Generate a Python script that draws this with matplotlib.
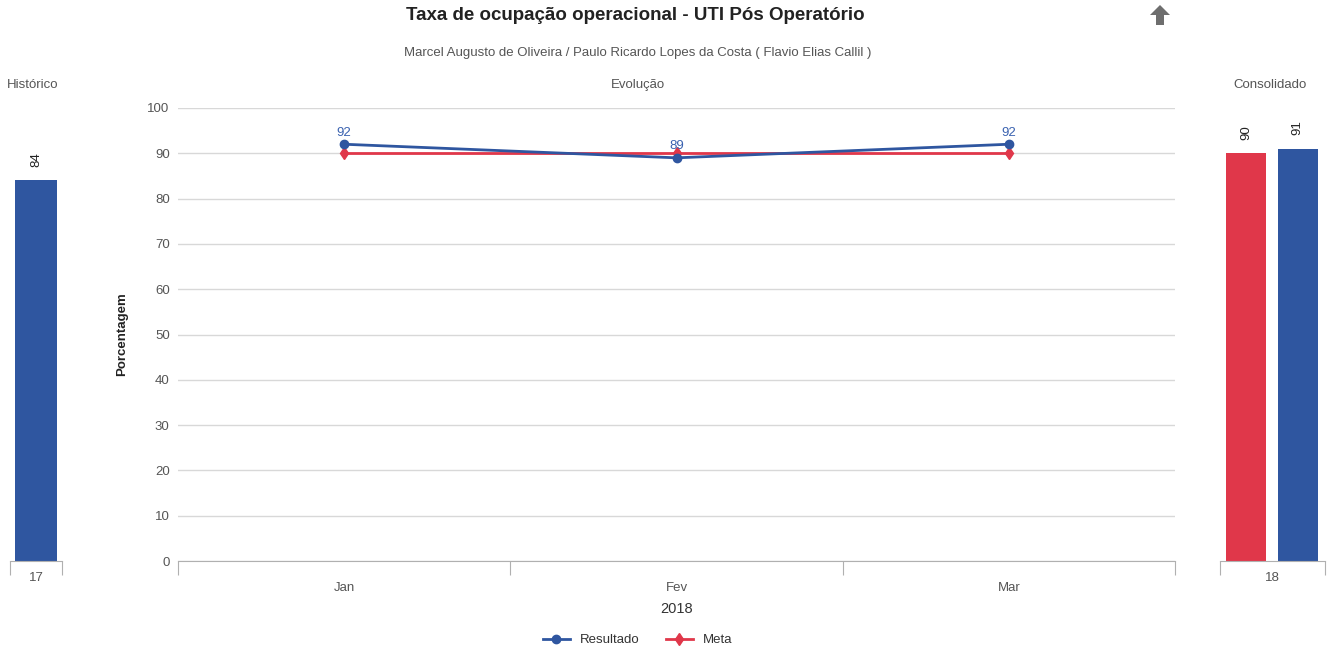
# Taxa de ocupação operacional - UTI Pós Operatório (recriação)

import matplotlib
matplotlib.use("Agg")
import matplotlib.pyplot as plt
from matplotlib.patches import Polygon

plt.rcParams['font.family'] = ['Liberation Sans', 'DejaVu Sans']

# Dados
meses = ['Jan', 'Fev', 'Mar']
resultado = [92, 89, 92]
meta = [90, 90, 90]
historico_rotulos = ['17']
historico_valores = [84]
consolidado_rotulos = ['18']
consolidado_meta = [90]
consolidado_resultado = [91]

azul = '#2f56a0'
vermelho = '#e0374a'
cinza_texto = '#555555'
cinza_grade = '#d8d8d8'

W, H = 1329, 654
fig = plt.figure(figsize=(W / 100, H / 100), dpi=100)
fig.patch.set_facecolor('white')


def px(x0, y0, x1, y1):
    # converte caixa em pixels (y a partir do topo) para coordenadas da figura
    return [x0 / W, 1 - y1 / H, (x1 - x0) / W, (y1 - y0) / H]


def estilo_eixo_x(ax, pad):
    for lado in ['top', 'right', 'left']:
        ax.spines[lado].set_visible(False)
    ax.spines['bottom'].set_color('#b0b0b0')
    ax.tick_params(axis='x', which='major', length=10, color='#b0b0b0', labelbottom=False)
    ax.tick_params(axis='x', which='minor', length=0, labelsize=9.5, labelcolor=cinza_texto, pad=pad)


# Gráfico principal (Evolução)
ax = fig.add_axes(px(178, 108, 1175, 561))
x = list(range(len(meses)))
ax.plot(x, meta, color=vermelho, marker='d', markersize=6, linewidth=2, label='Meta', zorder=3)
ax.plot(x, resultado, color=azul, marker='o', markersize=6, linewidth=2, label='Resultado', zorder=4)
for xi, v in zip(x, resultado):
    ax.annotate(str(v), (xi, v), xytext=(0, 4), textcoords='offset points',
                ha='center', va='bottom', fontsize=9.5, color='#3a62b0')
ax.set_xlim(-0.5, len(meses) - 0.5)
ax.set_ylim(0, 100)
ax.set_yticks(range(0, 101, 10))
ax.tick_params(axis='y', length=0, labelsize=9.5, labelcolor=cinza_texto, pad=6)
ax.grid(axis='y', color=cinza_grade, linewidth=1)
ax.set_axisbelow(True)
ax.set_xticks([i - 0.5 for i in range(len(meses) + 1)])
ax.set_xticks(x, minor=True)
ax.set_xticklabels(meses, minor=True)
estilo_eixo_x(ax, 15)
ax.set_xlabel('2018', fontsize=10.5, color='#333333', labelpad=6)
ax.set_ylabel('Porcentagem', fontsize=9.5, fontweight='bold', color='#222222', labelpad=14)
handles, labels = ax.get_legend_handles_labels()
fig.legend(handles[::-1], labels[::-1], loc='center', bbox_to_anchor=(638 / W, 1 - 640 / H),
           ncol=2, frameon=False, fontsize=9.5, handlelength=2, columnspacing=2, labelcolor='#333333')

# Histórico
axh = fig.add_axes(px(10, 108, 62, 561))
axh.bar([0], historico_valores, width=0.8, color=azul)
for xi, v in zip([0], historico_valores):
    axh.text(xi, v + 3, str(v), rotation=90, ha='center', va='bottom', fontsize=9.5, color='#222222')
axh.set_xlim(-0.5, 0.5)
axh.set_ylim(0, 100)
axh.set_yticks([])
axh.set_xticks([-0.5, 0.5])
axh.set_xticks([0], minor=True)
axh.set_xticklabels(historico_rotulos, minor=True)
estilo_eixo_x(axh, 8)

# Consolidado
axc = fig.add_axes(px(1220, 108, 1325, 561))
axc.bar([-0.25], consolidado_meta, width=0.38, color=vermelho)
axc.bar([0.24], consolidado_resultado, width=0.38, color=azul)
for xi, v in [(-0.25, consolidado_meta[0]), (0.24, consolidado_resultado[0])]:
    axc.text(xi, v + 3, str(v), rotation=90, ha='center', va='bottom', fontsize=9.5, color='#222222')
axc.set_xlim(-0.5, 0.5)
axc.set_ylim(0, 100)
axc.set_yticks([])
axc.set_xticks([-0.5, 0.5])
axc.set_xticks([0], minor=True)
axc.set_xticklabels(consolidado_rotulos, minor=True)
estilo_eixo_x(axc, 8)

# Títulos
fig.text(635 / W, 1 - 15 / H, 'Taxa de ocupação operacional - UTI Pós Operatório',
         ha='center', va='center', fontsize=13.5, fontweight='bold', color='#222222')
fig.text(638 / W, 1 - 53 / H, 'Marcel Augusto de Oliveira / Paulo Ricardo Lopes da Costa ( Flavio Elias Callil )',
         ha='center', va='center', fontsize=9.5, color=cinza_texto)
fig.text(638 / W, 1 - 85 / H, 'Evolução', ha='center', va='center', fontsize=9.5, color=cinza_texto)
fig.text(33 / W, 1 - 85 / H, 'Histórico', ha='center', va='center', fontsize=9.5, color=cinza_texto)
fig.text(1270 / W, 1 - 85 / H, 'Consolidado', ha='center', va='center', fontsize=9.5, color=cinza_texto)

# Ícone de seta
seta = [(1160, 5), (1170, 15), (1164, 15), (1164, 25), (1156, 25), (1156, 15), (1150, 15)]
fig.patches.append(Polygon([(a / W, 1 - b / H) for a, b in seta], closed=True,
                           transform=fig.transFigure, facecolor='#6e6e6e', edgecolor='none'))

fig.savefig('out.png', dpi=100, facecolor='white')
plt.close(fig)
